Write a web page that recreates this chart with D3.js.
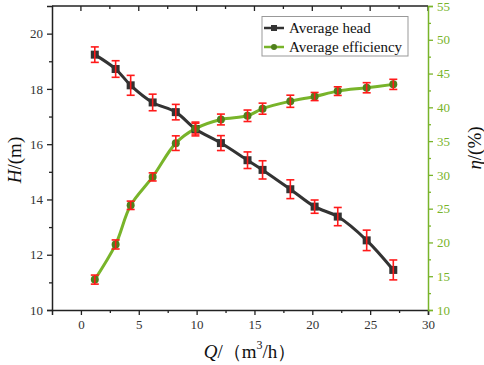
<!DOCTYPE html>
<html><head><meta charset="utf-8">
<script src="https://cdn.jsdelivr.net/npm/d3@7"></script>
<style>body{margin:0;background:#fff}svg{display:block}text{font-family:"Liberation Serif","Times New Roman",serif}</style>
</head><body><svg id="c" width="484" height="365"></svg>
<script>
const flow = [1.2, 3.0, 4.3, 6.2, 8.2, 9.9, 12.1, 14.4, 15.7, 18.1, 20.2, 22.2, 24.7, 27.0];
const head = [19.24, 18.72, 18.13, 17.51, 17.16, 16.55, 16.04, 15.42, 15.07, 14.37, 13.74, 13.38, 12.52, 11.45];
const headErr = [0.28, 0.30, 0.36, 0.30, 0.28, 0.25, 0.27, 0.30, 0.33, 0.34, 0.24, 0.33, 0.37, 0.36];
const eff = [14.5, 19.7, 25.5, 29.7, 34.7, 36.85, 38.2, 38.75, 39.8, 40.9, 41.6, 42.4, 42.9, 43.4];
const effErr = [0.67, 0.67, 0.62, 0.6, 1.08, 0.8, 0.8, 0.85, 0.82, 0.9, 0.6, 0.64, 0.75, 0.75];
const xTicks = [0, 5, 10, 15, 20, 25, 30];
const hTicks = [10, 12, 14, 16, 18, 20];
const eTicks = [10, 15, 20, 25, 30, 35, 40, 45, 50, 55];

const svg = d3.select("#c");
const FF = "'Liberation Serif','Times New Roman',serif";
const L = 52, R = 428, T = 6, B = 310;
const x = d3.scaleLinear().domain([-2.5, 30]).range([L, R]);
const yH = d3.scaleLinear().domain([10, 21]).range([B, T]);
const yE = d3.scaleLinear().domain([10, 55]).range([B, T]);
const green = "#78b42a", dark = "#333333", tickCol = "#333", axisCol = "#222";

// top border with inward ticks
svg.append("line").attr("x1", L).attr("x2", R).attr("y1", T).attr("y2", T).attr("stroke", axisCol).attr("stroke-width", 1.5);
d3.range(0, 30.01, 2.5).forEach(v => {
  const major = Math.abs(v % 5) < 1e-6;
  svg.append("line").attr("x1", x(v)).attr("x2", x(v)).attr("y1", T).attr("y2", T + (major ? 5 : 3)).attr("stroke", axisCol).attr("stroke-width", 1.3);
});

function styleAxis(g, col, textCol) {
  g.attr("font-family", FF);
  g.selectAll("path.domain").attr("stroke", col).attr("stroke-width", 1.5);
  g.selectAll("line").attr("stroke", col).attr("stroke-width", 1.3);
  g.selectAll("text").attr("font-size", 13).attr("fill", textCol);
}
const gx = svg.append("g").attr("transform", `translate(0,${B})`)
  .call(d3.axisBottom(x).tickValues(xTicks).tickSize(5).tickPadding(5).tickFormat(d3.format("d")));
styleAxis(gx, axisCol, tickCol);
const gxm = svg.append("g").attr("transform", `translate(0,${B})`)
  .call(d3.axisBottom(x).tickValues(d3.range(2.5, 30, 5)).tickSize(3).tickFormat(""));
gxm.select(".domain").remove(); styleAxis(gxm, axisCol, tickCol);

const gy = svg.append("g").attr("transform", `translate(${L},0)`)
  .call(d3.axisLeft(yH).tickValues(hTicks).tickSize(5).tickPadding(4));
styleAxis(gy, axisCol, tickCol);
const gym = svg.append("g").attr("transform", `translate(${L},0)`)
  .call(d3.axisLeft(yH).tickValues(d3.range(11, 21, 2)).tickSize(3).tickFormat(""));
gym.select(".domain").remove(); styleAxis(gym, axisCol, tickCol);

const ge = svg.append("g").attr("transform", `translate(${R},0)`)
  .call(d3.axisRight(yE).tickValues(eTicks).tickSize(5).tickPadding(4));
styleAxis(ge, green, green);
const gem = svg.append("g").attr("transform", `translate(${R},0)`)
  .call(d3.axisRight(yE).tickValues(d3.range(12.5, 55, 5)).tickSize(3).tickFormat(""));
gem.select(".domain").remove(); styleAxis(gem, green, green);

const plot = svg.append("g");
function drawSeries(vals, errs, yS, lineCol) {
  const pts = flow.map((f, i) => ({ x: f, y: vals[i], e: errs[i] }));
  plot.append("path").datum(pts)
    .attr("d", d3.line().x(d => x(d.x)).y(d => yS(d.y)).curve(d3.curveCatmullRom.alpha(0.5)))
    .attr("fill", "none").attr("stroke", lineCol).attr("stroke-width", 3);
  return pts;
}
function drawMarks(pts, yS, markCol, shape) {
  const g = plot.append("g");
  pts.forEach(d => {
    if (shape === "sq") g.append("rect").attr("x", x(d.x) - 4).attr("y", yS(d.y) - 4).attr("width", 8).attr("height", 8).attr("fill", markCol);
    else g.append("circle").attr("cx", x(d.x)).attr("cy", yS(d.y)).attr("r", 4).attr("fill", markCol);
  });
}
function drawErr(pts, yS) {
  const g = plot.append("g").attr("stroke", "#ff1a1a").attr("stroke-width", 1.6);
  pts.forEach(d => {
    const cx = x(d.x), y1 = yS(d.y + d.e), y2 = yS(d.y - d.e);
    g.append("line").attr("x1", cx).attr("x2", cx).attr("y1", y1).attr("y2", y2);
    g.append("line").attr("x1", cx - 4).attr("x2", cx + 4).attr("y1", y1).attr("y2", y1);
    g.append("line").attr("x1", cx - 4).attr("x2", cx + 4).attr("y1", y2).attr("y2", y2);
  });
}
const hp = drawSeries(head, headErr, yH, dark);
const ep = drawSeries(eff, effErr, yE, green);
drawMarks(hp, yH, dark, "sq");
drawMarks(ep, yE, "#4f7f1c", "ci");
drawErr(hp, yH);
drawErr(ep, yE);

// Legend
const lg = svg.append("g");
lg.append("rect").attr("x", 262).attr("y", 16.5).attr("width", 146).attr("height", 39.5).attr("fill", "#fff").attr("stroke", "#999").attr("stroke-width", 1);
[["Average head", dark, "sq", 28], ["Average efficiency", green, "ci", 47]].forEach(([t, c, s, yy]) => {
  lg.append("line").attr("x1", 264).attr("x2", 284).attr("y1", yy).attr("y2", yy).attr("stroke", c).attr("stroke-width", 2.5);
  if (s === "sq") lg.append("rect").attr("x", 271).attr("y", yy - 3).attr("width", 6).attr("height", 6).attr("fill", dark);
  else lg.append("circle").attr("cx", 274).attr("cy", yy).attr("r", 3).attr("fill", "#4f7f1c");
  lg.append("text").attr("x", 289).attr("y", yy + 5).attr("font-size", 15).attr("fill", "#111").text(t);
});

// Axis titles
const ty = svg.append("text").attr("transform", "translate(21,160) rotate(-90)").attr("text-anchor", "middle").attr("font-size", 19).attr("fill", "#111");
ty.append("tspan").attr("font-style", "italic").text("H");
ty.append("tspan").text("/(m)");
const te = svg.append("text").attr("transform", "translate(481,148) rotate(-90)").attr("text-anchor", "middle").attr("font-size", 19).attr("fill", "#111");
te.append("tspan").attr("font-style", "italic").text("η");
te.append("tspan").text("/(%)");
const tq = svg.append("text").attr("x", 250).attr("y", 358).attr("text-anchor", "middle").attr("font-size", 19).attr("fill", "#111");
tq.append("tspan").attr("font-style", "italic").text("Q");
tq.append("tspan").text("/（m");
tq.append("tspan").attr("font-size", 12).attr("dy", -9).text("3");
tq.append("tspan").attr("dy", 9).text("/h）");
</script></body></html>
